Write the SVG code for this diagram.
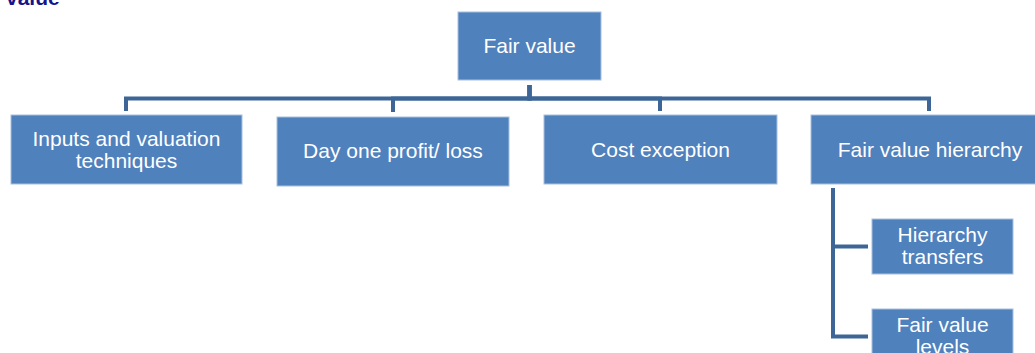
<svg xmlns="http://www.w3.org/2000/svg" width="1035" height="353" viewBox="0 0 1035 353">
<style>
.box{fill:#4F81BD;stroke:#A9C0DE;stroke-width:1}
.t{font-family:"Liberation Sans",Arial,sans-serif;font-size:21px;fill:#FFFFFF;text-anchor:middle}
.title{font-family:"Liberation Sans",Arial,sans-serif;font-size:21px;font-weight:bold;fill:#14148C}
.c{fill:none;stroke:#3D6697;stroke-width:4;stroke-linejoin:miter}
</style>
<rect width="1035" height="353" fill="#FFFFFF"/>
<text class="title" x="6" y="4.5">value</text>
<g id="connectors">
<path class="c" d="M529.5,85 V98.5 H126 V111"/>
<path class="c" d="M529.5,85 V98.5 H393 V112"/>
<path class="c" d="M529.5,85 V98.5 H660 V111"/>
<path class="c" d="M529.5,85 V98.5 H929 V111"/>
<path class="c" d="M833,188 V246.5 H868"/>
<path class="c" d="M833,188 V336.5 H868"/>
</g>
<g id="node-fair-value">
<rect class="box" x="458" y="12" width="143" height="68"/>
<text class="t" x="529.5" y="53">Fair value</text>
</g>
<g id="node-inputs">
<rect class="box" x="11" y="115" width="231" height="69"/>
<text class="t" x="126.5" y="146">Inputs and valuation</text>
<text class="t" x="126.5" y="168">techniques</text>
</g>
<g id="node-day-one">
<rect class="box" x="277" y="117" width="232" height="69"/>
<text class="t" x="393" y="158">Day one profit/ loss</text>
</g>
<g id="node-cost">
<rect class="box" x="544" y="115" width="233" height="69"/>
<text class="t" x="660.5" y="157">Cost exception</text>
</g>
<g id="node-hierarchy">
<rect class="box" x="811" y="115" width="228" height="69"/>
<text class="t" x="930" y="157">Fair value hierarchy</text>
</g>
<g id="node-transfers">
<rect class="box" x="872" y="219" width="141" height="55"/>
<text class="t" x="942.5" y="242">Hierarchy</text>
<text class="t" x="942.5" y="264">transfers</text>
</g>
<g id="node-levels">
<rect class="box" x="872" y="309" width="141" height="55"/>
<text class="t" x="942.5" y="332">Fair value</text>
<text class="t" x="942.5" y="354">levels</text>
</g>
</svg>
